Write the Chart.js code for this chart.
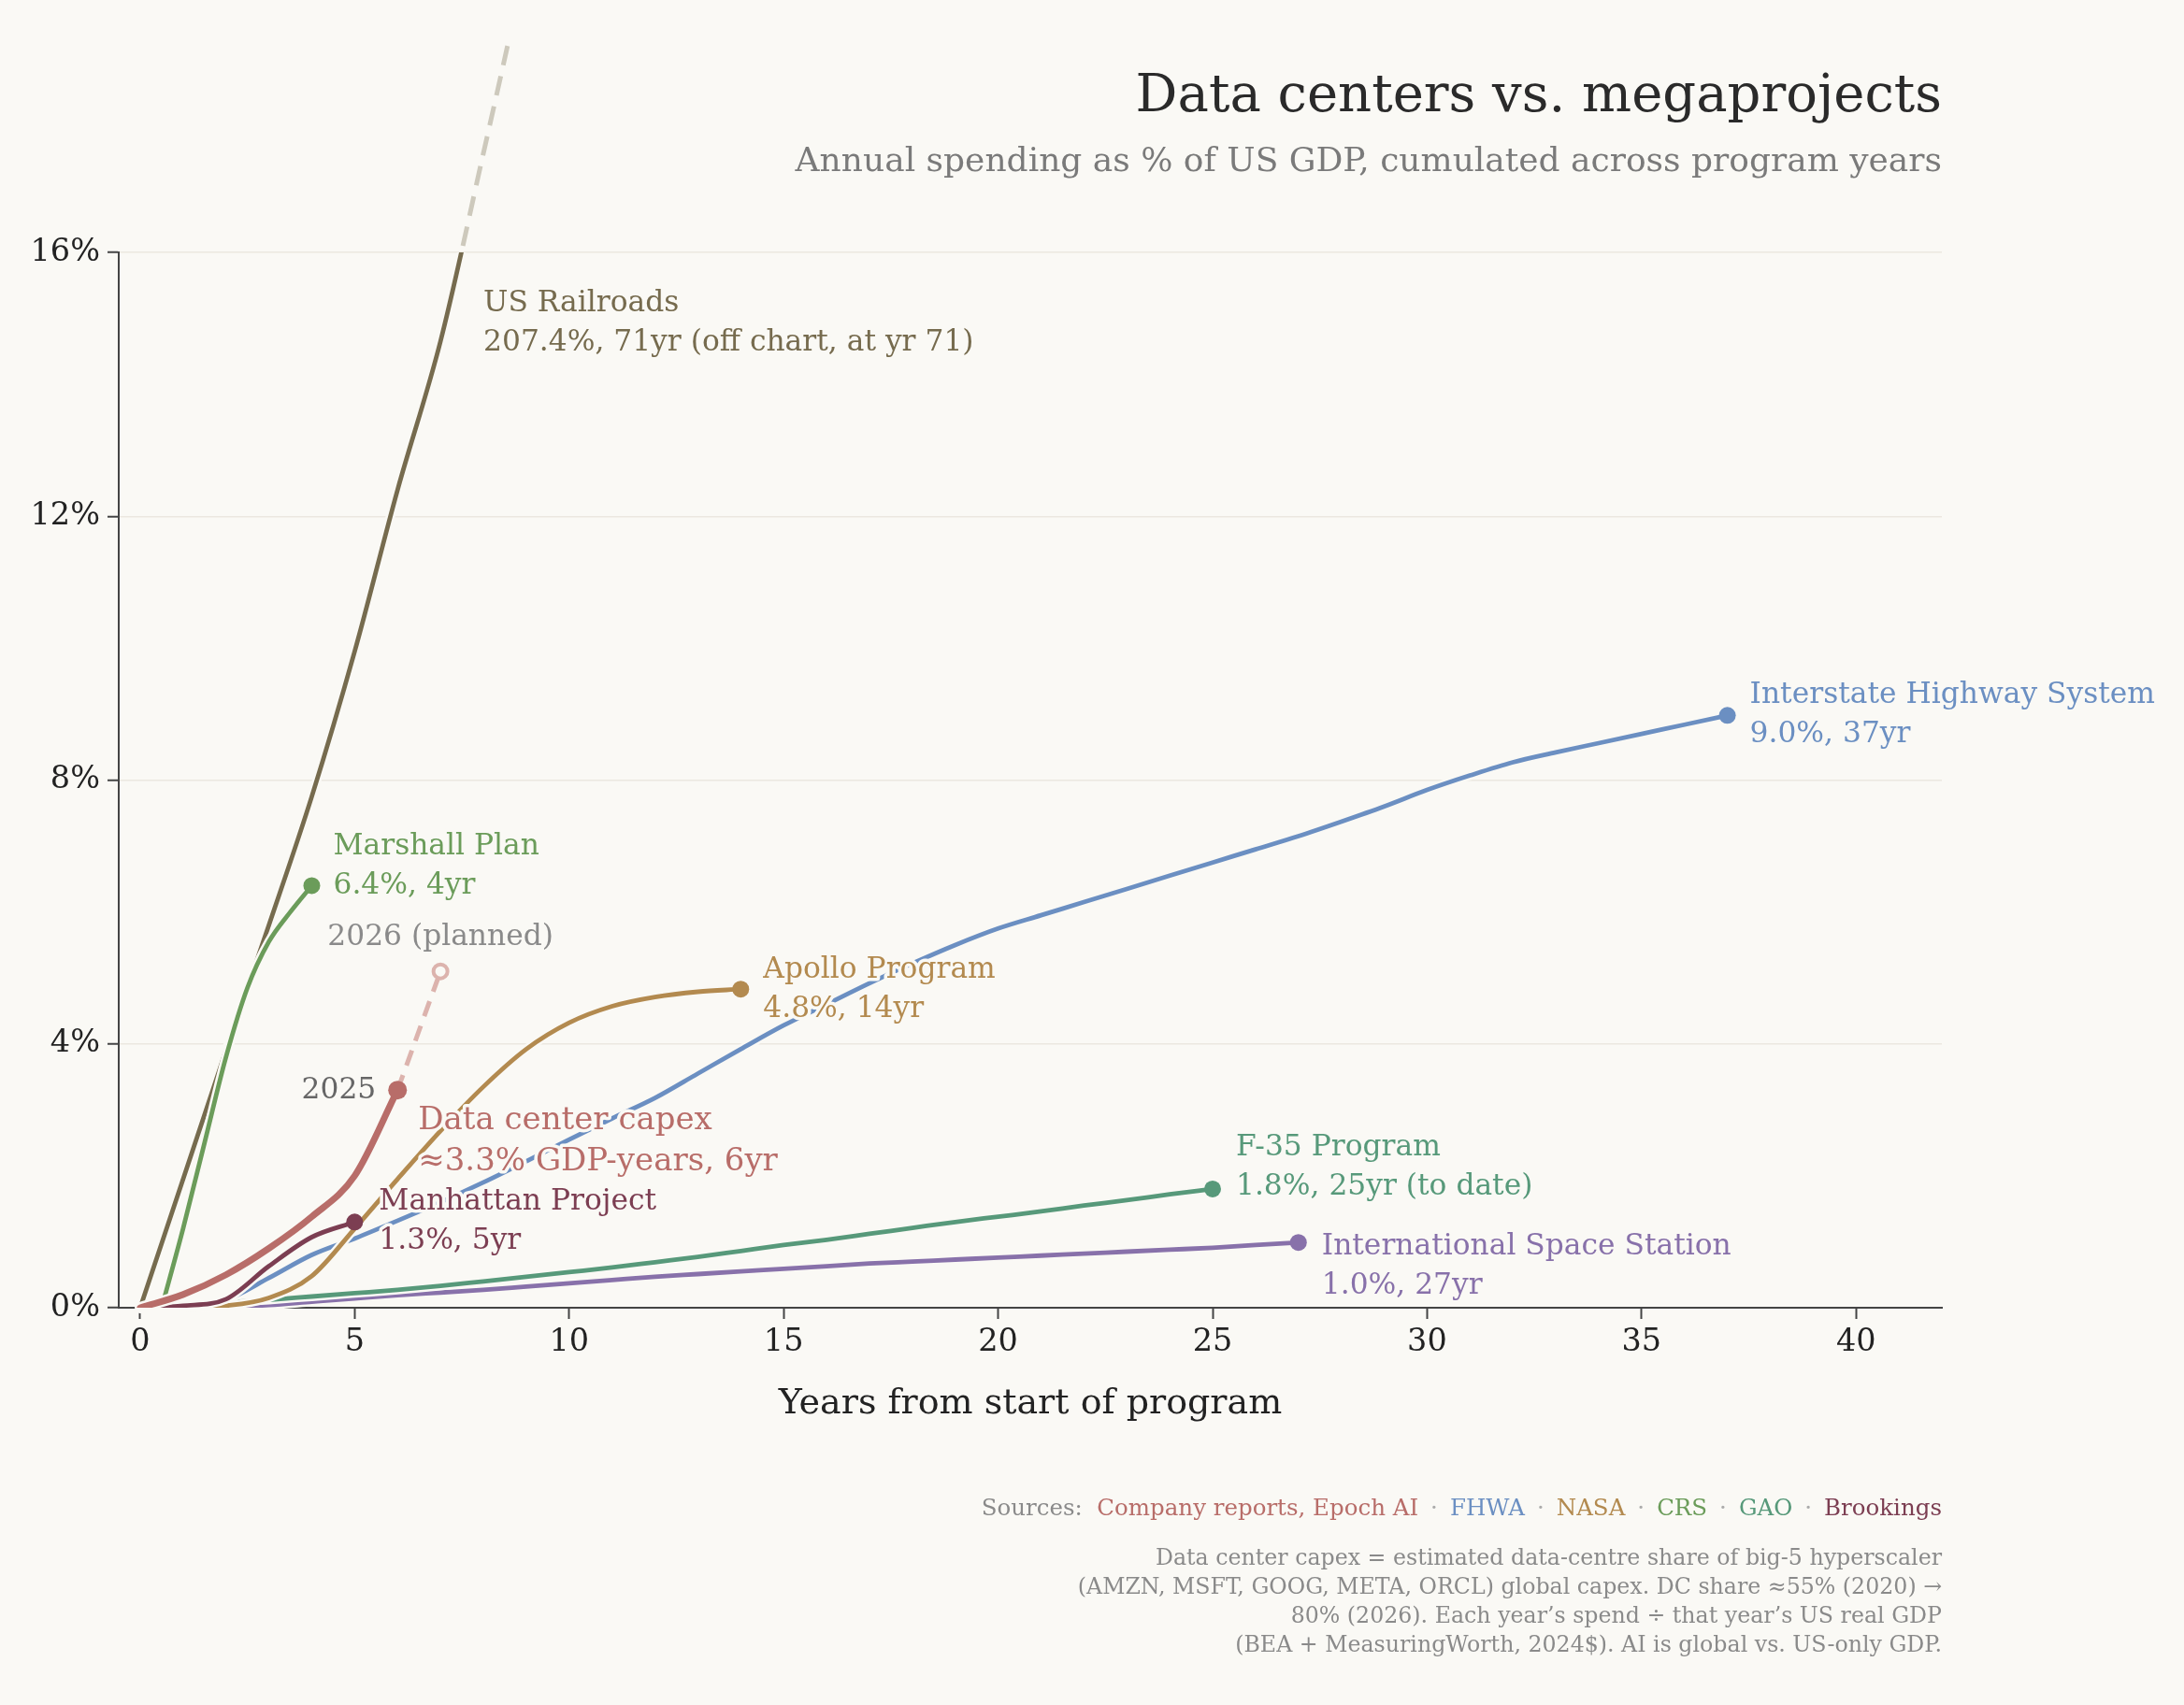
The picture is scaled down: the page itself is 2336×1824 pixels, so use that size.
<!DOCTYPE html>
<html>
<head>
<meta charset="utf-8">
<script src="https://cdn.jsdelivr.net/npm/chart.js@4.4.1/dist/chart.umd.min.js"></script>
<style>
  html, body { margin: 0; padding: 0; background: #faf9f5; }
  body { width: 2336px; height: 1824px; position: relative; overflow: hidden; font-family: "DejaVu Serif", serif; }
  #chart { position: absolute; left: 0; top: 0; }
  .txt { position: absolute; right: 259px; text-align: right; white-space: nowrap; line-height: 1; }
  #title { top: 72px; font-size: 56px; color: #2a2a2a; }
  #subtitle { top: 153px; font-size: 36px; color: #7a7a7a; }
  #sources { top: 1601px; font-size: 24.5px; color: #8a8a8a; }
  #notes { top: 1651px; font-size: 23.7px; line-height: 31px; color: #8a8a8a; }
  .dot { color: #aaa; padding: 0 13px; }
</style>
</head>
<body>
<canvas id="chart" width="2336" height="1824"></canvas>
<div id="title" class="txt">Data centers vs. megaprojects</div>
<div id="subtitle" class="txt">Annual spending as % of US GDP, cumulated across program years</div>
<div id="sources" class="txt">Sources:&nbsp; <span style="color:#b86d69">Company reports, Epoch AI</span><span class="dot">·</span><span style="color:#6b8fc2">FHWA</span><span class="dot">·</span><span style="color:#b38a4f">NASA</span><span class="dot">·</span><span style="color:#6b9c5a">CRS</span><span class="dot">·</span><span style="color:#57997a">GAO</span><span class="dot">·</span><span style="color:#7c3e52">Brookings</span></div>
<div id="notes" class="txt">Data center capex = estimated data-centre share of big-5 hyperscaler<br>(AMZN, MSFT, GOOG, META, ORCL) global capex. DC share ≈55% (2020) →<br>80% (2026). Each year’s spend ÷ that year’s US real GDP<br>(BEA + MeasuringWorth, 2024$). AI is global vs. US-only GDP.</div>
<script>
// cumulative spending, % of US GDP, by year from program start
const railroadShare = [0, 1.95, 3.9, 5.8, 7.75, 9.95, 12.4, 14.65, 17.5, 20.4]; // above 16% is off chart
const marshallYears = [0.5, 1, 1.5, 2, 2.5, 3, 3.5, 4];
const marshallShare = [0, 1.2, 2.5, 3.8, 4.85, 5.55, 6.0, 6.4];
const capexShare = [0, 0.2, 0.5, 0.9, 1.38, 2.0, 3.3];
const capexPlannedYears = [6, 7];
const capexPlannedShare = [3.3, 5.1];
const manhattanShare = [0, 0.03, 0.13, 0.63, 1.07, 1.3];
const apolloShare = [0, 0, 0.03, 0.15, 0.48, 1.2, 1.95, 2.68, 3.35, 3.92, 4.32, 4.57, 4.71, 4.79, 4.83];
const interstateShare = [0, 0.02, 0.12, 0.45, 0.8, 1.05, 1.32, 1.6, 1.9, 2.22, 2.55, 2.87, 3.18, 3.55,
  3.92, 4.28, 4.6, 4.92, 5.22, 5.5, 5.75, 5.95, 6.15, 6.35, 6.55, 6.75, 6.95, 7.15, 7.37, 7.6,
  7.85, 8.07, 8.27, 8.42, 8.56, 8.7, 8.84, 8.98];
const f35Share = [0, 0.04, 0.08, 0.12, 0.17, 0.22, 0.27, 0.33, 0.4, 0.47, 0.54, 0.61, 0.69, 0.77,
  0.86, 0.95, 1.03, 1.12, 1.21, 1.3, 1.38, 1.46, 1.55, 1.63, 1.72, 1.8];
const issShare = [0, 0, 0.01, 0.04, 0.09, 0.14, 0.19, 0.23, 0.27, 0.32, 0.37, 0.42, 0.47, 0.51,
  0.55, 0.59, 0.63, 0.67, 0.7, 0.73, 0.76, 0.79, 0.82, 0.85, 0.88, 0.91, 0.95, 0.99];

const xTickStep = 5;
const yTicks = [0, 4, 8, 12, 16];

const BG = '#faf9f5';
const FONT = '"DejaVu Serif", serif';
const C = {
  railroad: '#766b4e', railroadOff: '#cdc9bc', marshall: '#6b9c5a', capex: '#b86d69',
  planned: '#dcb3ad', manhattan: '#7c3e52', apollo: '#b38a4f', interstate: '#6b8fc2',
  f35: '#57997a', iss: '#8871aa'
};

const pts = (ys, xs) => ys.map((y, i) => ({ x: xs ? xs[i] : i, y }));

function series(data, color, width, radius, extra) {
  return Object.assign({
    data: data,
    borderColor: color,
    backgroundColor: color,
    borderWidth: width,
    cubicInterpolationMode: 'monotone',
    fill: false,
    pointRadius: ctx => ctx.dataIndex === data.length - 1 ? radius : 0,
    pointBorderWidth: 0,
    pointHoverRadius: 0,
    borderCapStyle: 'round',
    halo: true
  }, extra);
}

const datasets = [
  series(pts(capexShare), C.capex, 7, 10, { order: 0 }),
  series(pts(capexPlannedShare, capexPlannedYears), C.planned, 5, 7.5, {
    order: 1, borderDash: [17, 11], borderCapStyle: 'butt', halo: false,
    pointBackgroundColor: BG, pointBorderColor: C.planned, pointBorderWidth: 4
  }),
  series(pts(manhattanShare), C.manhattan, 4.8, 9, { order: 2 }),
  series(pts(apolloShare), C.apollo, 4.8, 9, { order: 3 }),
  series(pts(marshallShare, marshallYears), C.marshall, 4.8, 9, { order: 4 }),
  series(pts(railroadShare), C.railroad, 4.8, 0, { order: 5, clip: 0 }),
  series(pts(railroadShare), C.railroadOff, 5, 0, {
    order: 6, borderDash: [21, 12], borderCapStyle: 'butt', halo: false,
    clip: { left: 0, top: 225, right: 0, bottom: 0 }
  }),
  series(pts(interstateShare), C.interstate, 4.8, 9, { order: 7 }),
  series(pts(f35Share), C.f35, 4.8, 9, { order: 8 }),
  series(pts(issShare), C.iss, 4.8, 9, { order: 9 })
];

// end-of-line labels, anchored at data points
const labels = [
  { x: 37, y: interstateShare[37], lines: ['Interstate Highway System', '9.0%, 37yr'], color: C.interstate, dx: 24, dy: -13 },
  { x: 4, y: marshallShare[7], lines: ['Marshall Plan', '6.4%, 4yr'], color: C.marshall, dx: 23, dy: -33 },
  { x: 14, y: apolloShare[14], lines: ['Apollo Program', '4.8%, 14yr'], color: C.apollo, dx: 24, dy: -12 },
  { x: 5, y: manhattanShare[5], lines: ['Manhattan Project', '1.3%, 5yr'], color: C.manhattan, dx: 26, dy: -13 },
  { x: 25, y: f35Share[25], lines: ['F-35 Program', '1.8%, 25yr (to date)'], color: C.f35, dx: 25, dy: -36 },
  { x: 27, y: issShare[27], lines: ['International Space Station', '1.0%, 27yr'], color: C.iss, dx: 25, dy: 13 },
  { x: 6, y: capexShare[6], lines: ['Data center capex', '≈3.3% GDP-years, 6yr'], color: C.capex, dx: 22, dy: 42, size: 34, gap: 44 },
  { x: 6, y: capexShare[6], lines: ['2025'], color: '#666', dx: -23, dy: 9, align: 'right' },
  { x: 7, y: capexPlannedShare[1], lines: ['2026 (planned)'], color: '#8a8a8a', dx: 0, dy: -28, align: 'center' },
  { x: 7.5, y: 16, lines: ['US Railroads', '207.4%, 71yr (off chart, at yr 71)'], color: C.railroad, dx: 23, dy: 63 }
];

const haloPlugin = {
  id: 'halo',
  beforeDatasetDraw(chart, args) {
    const ds = chart.data.datasets[args.index];
    if (!ds.halo) return;
    const line = args.meta.dataset;
    const a = chart.chartArea;
    const ctx = chart.ctx;
    line.updateControlPoints(a);
    ctx.save();
    ctx.beginPath();
    ctx.rect(a.left - 20, a.top, a.right - a.left + 40, a.bottom - a.top + 20);
    ctx.clip();
    ctx.beginPath();
    line.path(ctx);
    ctx.strokeStyle = BG;
    ctx.lineWidth = ds.borderWidth + 5;
    ctx.lineJoin = 'round';
    ctx.lineCap = 'round';
    ctx.stroke();
    ctx.restore();
  }
};

const labelPlugin = {
  id: 'endLabels',
  afterDatasetsDraw(chart) {
    const ctx = chart.ctx;
    const xs = chart.scales.x, ys = chart.scales.y;
    ctx.save();
    labels.forEach(l => {
      const px = xs.getPixelForValue(l.x) + l.dx;
      const py = ys.getPixelForValue(l.y) + l.dy;
      ctx.font = (l.size || 31.3) + 'px ' + FONT;
      ctx.textAlign = l.align || 'left';
      ctx.textBaseline = 'alphabetic';
      ctx.lineJoin = 'round';
      l.lines.forEach((t, i) => {
        const y = py + i * (l.gap || 42);
        ctx.strokeStyle = BG;
        ctx.lineWidth = 7;
        ctx.strokeText(t, px, y);
        ctx.fillStyle = l.color;
        ctx.fillText(t, px, y);
      });
    });
    ctx.restore();
  }
};

new Chart(document.getElementById('chart'), {
  type: 'line',
  data: { datasets: datasets },
  plugins: [haloPlugin, labelPlugin],
  options: {
    responsive: false,
    animation: false,
    events: [],
    layout: { padding: { left: 0, top: 270, right: 259, bottom: 299 } },
    plugins: { legend: { display: false }, tooltip: { enabled: false } },
    scales: {
      x: {
        type: 'linear',
        min: -0.5,
        max: 42,
        ticks: {
          stepSize: xTickStep, includeBounds: false, color: '#222', padding: 5, maxRotation: 0,
          font: { family: FONT, size: 33.5 }
        },
        grid: { drawOnChartArea: false, tickLength: 12, tickColor: '#444', tickWidth: 2 },
        border: { color: '#444', width: 2 },
        title: {
          display: true, text: 'Years from start of program', color: '#222',
          font: { family: FONT, size: 38 }, padding: { top: 0, bottom: 0 }
        },
        afterFit(scale) { scale.height = 126; }
      },
      y: {
        min: 0,
        max: 16,
        afterBuildTicks(scale) { scale.ticks = yTicks.map(v => ({ value: v })); },
        ticks: {
          color: '#222', padding: 8, font: { family: FONT, size: 33.5 },
          callback: v => v + '%'
        },
        grid: { color: '#ebe8e0', lineWidth: 1.5, tickLength: 12, tickColor: '#444', tickWidth: 2 },
        border: { color: '#444', width: 2 },
        afterFit(scale) { scale.width = 127; }
      }
    }
  }
});
</script>
</body>
</html>
